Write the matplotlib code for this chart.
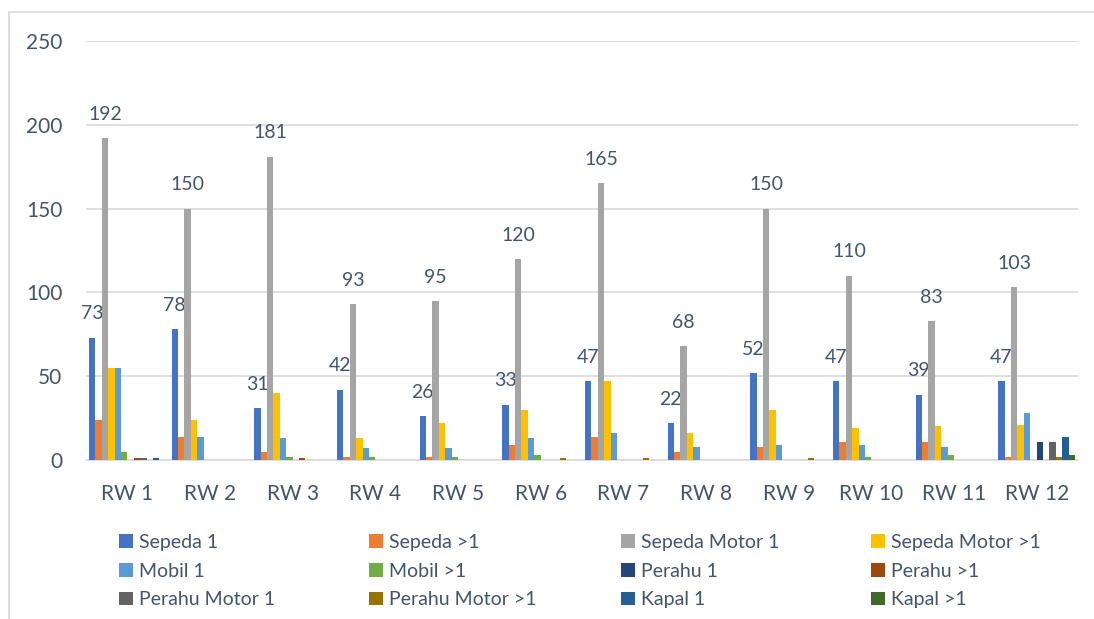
import numpy as np
import matplotlib
matplotlib.use("Agg")
import matplotlib.pyplot as plt
from matplotlib.patches import Patch
from matplotlib.lines import Line2D

# categories and series
categories = ["RW 1", "RW 2", "RW 3", "RW 4", "RW 5", "RW 6",
              "RW 7", "RW 8", "RW 9", "RW 10", "RW 11", "RW 12"]

series_names = ["Sepeda 1", "Sepeda >1", "Sepeda Motor 1", "Sepeda Motor >1",
                "Mobil 1", "Mobil >1", "Perahu 1", "Perahu >1",
                "Perahu Motor 1", "Perahu Motor >1", "Kapal 1", "Kapal >1"]

sepeda_1 = [73, 78, 31, 42, 26, 33, 47, 22, 52, 47, 39, 47]
sepeda_2 = [24, 14, 5, 2, 2, 9, 14, 5, 8, 11, 11, 2]
motor_1 = [192, 150, 181, 93, 95, 120, 165, 68, 150, 110, 83, 103]
motor_2 = [55, 24, 40, 13, 22, 30, 47, 16, 30, 19, 20, 21]
mobil_1 = [55, 14, 13, 7, 7, 13, 16, 8, 9, 9, 8, 28]
mobil_2 = [5, 0, 2, 2, 2, 3, 0, 0, 0, 2, 3, 0]
perahu_1 = [0, 0, 0, 0, 0, 0, 0, 0, 0, 0, 0, 11]
perahu_2 = [1, 0, 1, 0, 0, 0, 0, 0, 0, 0, 0, 0]
perahu_motor_1 = [1, 0, 0, 0, 0, 0, 0, 0, 0, 0, 0, 11]
perahu_motor_2 = [0, 0, 0, 0, 0, 1, 1, 0, 1, 0, 0, 2]
kapal_1 = [1, 0, 0, 0, 0, 0, 0, 0, 0, 0, 0, 14]
kapal_2 = [0, 0, 0, 0, 0, 0, 0, 0, 0, 0, 0, 3]

all_series = [sepeda_1, sepeda_2, motor_1, motor_2, mobil_1, mobil_2,
              perahu_1, perahu_2, perahu_motor_1, perahu_motor_2, kapal_1, kapal_2]

colors = ["#4472C4", "#ED7D31", "#A5A5A5", "#FFC000", "#5B9BD5", "#70AD47",
          "#264478", "#9E480E", "#636363", "#997300", "#255E91", "#43682B"]

labelled = [0, 2]  # only these series carry data labels
text_col = "#44546A"

plt.rcParams['font.family'] = ['Lato', 'DejaVu Sans']

fig = plt.figure(figsize=(10.94, 6.19), dpi=100)
W, H = 1094, 619
ax = fig.add_axes([86 / W, 1 - 460 / H, (1078 - 86) / W, (460 - 41) / H])

x = np.arange(len(categories))
n = len(all_series)
w = 0.0775
for i, vals in enumerate(all_series):
    pos = x + (i - (n - 1) / 2) * w
    bars = ax.bar(pos, vals, width=w, color=colors[i], zorder=3)
    if i in labelled:
        for b, v in zip(bars, vals):
            ax.annotate(str(v), (b.get_x() + b.get_width() / 2, v),
                        xytext=(0, 11), textcoords="offset points",
                        ha="center", va="bottom", fontsize=14, color=text_col)

ax.set_xlim(-0.5, len(categories) - 0.5)
ax.set_ylim(0, 250)
ax.set_yticks(np.arange(0, 251, 50))
ax.yaxis.grid(True, color="#D9D9D9", linewidth=1.2, zorder=0)
for s in ["top", "right", "left"]:
    ax.spines[s].set_visible(False)
ax.spines["bottom"].set_color("#D9D9D9")
ax.spines["bottom"].set_linewidth(1.2)
ax.set_xticks(x)
ax.set_xticklabels(categories)
ax.tick_params(axis="both", length=0, labelsize=15, labelcolor=text_col)
ax.tick_params(axis="y", pad=17)
ax.tick_params(axis="x", pad=17)

# legend: four columns placed at fixed x positions
col_x = [119, 369, 621, 871]
for c in range(4):
    handles = [Patch(facecolor=colors[c + 4 * r]) for r in range(3)]
    labels = [series_names[c + 4 * r] for r in range(3)]
    fig.legend(handles, labels, loc="upper left",
               bbox_to_anchor=(col_x[c] / W, 1 - 534 / H),
               frameon=False, fontsize=14, labelcolor=text_col,
               handlelength=0.7, handleheight=0.7, handletextpad=0.35,
               labelspacing=0.6, borderaxespad=0, borderpad=0)

# chart frame (top and left edges visible)
fig.add_artist(Line2D([9 / W, 1.0], [1 - 12 / H, 1 - 12 / H], color="#D9D9D9", linewidth=1.2))
fig.add_artist(Line2D([9 / W, 9 / W], [0, 1 - 12 / H], color="#D9D9D9", linewidth=1.2))

fig.savefig("out.png", dpi=100)
